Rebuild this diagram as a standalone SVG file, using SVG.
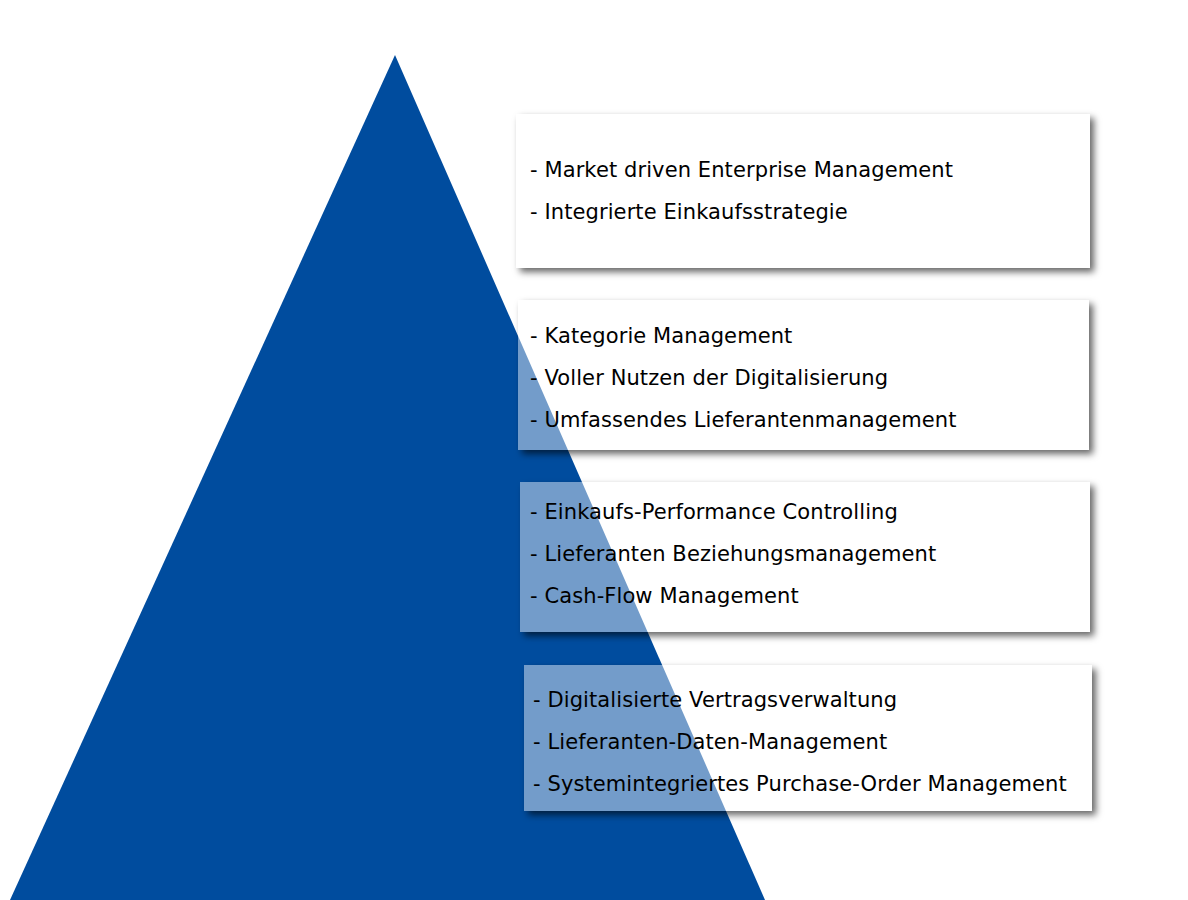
<svg xmlns="http://www.w3.org/2000/svg" width="1188" height="900" viewBox="0 0 1188 900">
<defs>
<filter id="sh" x="-10%" y="-20%" width="120%" height="140%">
<feGaussianBlur in="SourceAlpha" stdDeviation="3.5" result="b"/>
<feOffset in="b" dx="4" dy="4" result="o"/>
<feFlood flood-color="#000" flood-opacity="0.6" result="c"/>
<feComposite in="c" in2="o" operator="in" result="s"/>
<feComposite in="s" in2="SourceAlpha" operator="out"/>
</filter>
</defs>
<style>
.box{fill:#fff;fill-opacity:0.45;}
.shd{fill:#000;}
.txt{font-family:"DejaVu Sans",sans-serif;font-size:21px;letter-spacing:0.1px;fill:#000;}
</style>
<rect width="1188" height="900" fill="#fff"/>
<g id="pyramid"><polygon points="395,55 10,900 765,900" fill="#004C9E"/></g>
<g id="connectors"></g>
<g id="box1">
<rect class="shd" x="516" y="114" width="574" height="154" filter="url(#sh)"/>
<rect class="box" x="516" y="114" width="574" height="154"/>
<text class="txt" x="530" y="177">- Market driven Enterprise Management</text>
<text class="txt" x="530" y="219">- Integrierte Einkaufsstrategie</text>
</g>
<g id="box2">
<rect class="shd" x="518" y="300" width="571" height="150" filter="url(#sh)"/>
<rect class="box" x="518" y="300" width="571" height="150"/>
<text class="txt" x="530" y="343">- Kategorie Management</text>
<text class="txt" x="530" y="385">- Voller Nutzen der Digitalisierung</text>
<text class="txt" x="530" y="427">- Umfassendes Lieferantenmanagement</text>
</g>
<g id="box3">
<rect class="shd" x="520" y="482" width="570" height="150" filter="url(#sh)"/>
<rect class="box" x="520" y="482" width="570" height="150"/>
<text class="txt" x="530" y="519">- Einkaufs-Performance Controlling</text>
<text class="txt" x="530" y="561">- Lieferanten Beziehungsmanagement</text>
<text class="txt" x="530" y="603">- Cash-Flow Management</text>
</g>
<g id="box4">
<rect class="shd" x="524" y="665" width="568" height="146" filter="url(#sh)"/>
<rect class="box" x="524" y="665" width="568" height="146"/>
<text class="txt" x="533" y="707">- Digitalisierte Vertragsverwaltung</text>
<text class="txt" x="533" y="749">- Lieferanten-Daten-Management</text>
<text class="txt" x="533" y="791">- Systemintegriertes Purchase-Order Management</text>
</g>
</svg>
